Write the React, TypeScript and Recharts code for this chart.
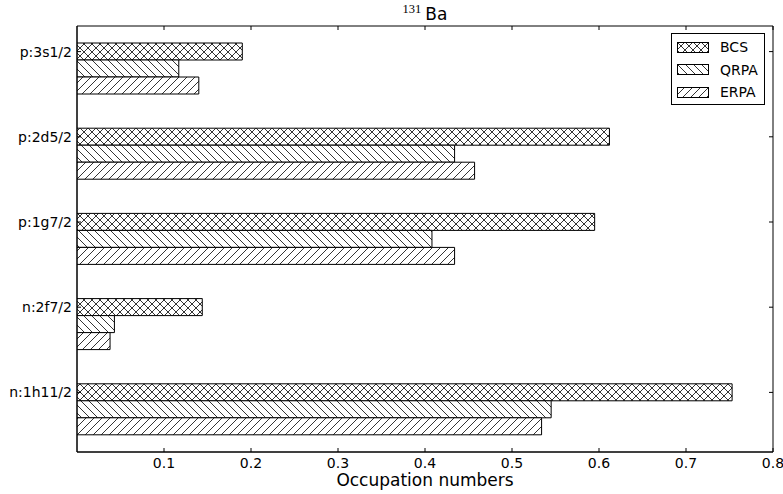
import React from "react";
import { BarChart, Bar, XAxis, YAxis, ReferenceArea, ReferenceLine } from "recharts";

const FONT = '"DejaVu Sans", sans-serif';
const BAR = 17;

const categories = ["p:3s1/2", "p:2d5/2", "p:1g7/2", "n:2f7/2", "n:1h11/2"];
const bcsValues = [0.19, 0.612, 0.595, 0.144, 0.753];
const qrpaValues = [0.117, 0.434, 0.408, 0.043, 0.545];
const erpaValues = [0.14, 0.457, 0.434, 0.038, 0.534];
const xTicks = [0.1, 0.2, 0.3, 0.4, 0.5, 0.6, 0.7, 0.8];

const series = [
  { key: "bcs", label: "BCS", fill: "url(#hatchX)" },
  { key: "qrpa", label: "QRPA", fill: "url(#hatchBack)" },
  { key: "erpa", label: "ERPA", fill: "url(#hatchFwd)" },
];

const data = categories.map((name, i) => ({
  name,
  bcs: bcsValues[i],
  qrpa: qrpaValues[i],
  erpa: erpaValues[i],
}));

const LeftTick = (props: any) => {
  const { x, y, payload } = props;
  return (
    <text x={x - 5} y={y - BAR + 5} textAnchor="end" fontSize={14} fontFamily={FONT} fill="#000">
      {payload.value}
    </text>
  );
};

const BottomTick = (props: any) => {
  const { x, y, payload } = props;
  return (
    <text x={x} y={y + 16} textAnchor="middle" fontSize={14} fontFamily={FONT} fill="#000">
      {Number(payload.value).toFixed(1)}
    </text>
  );
};

// inward tick marks on both ends of a full-height / full-width reference line
const VTicks = (props: any) => {
  const { x1, y1, y2 } = props;
  const top = Math.min(y1, y2);
  const bot = Math.max(y1, y2);
  return (
    <g>
      <line x1={x1} x2={x1} y1={top} y2={top + 4} stroke="#000" />
      <line x1={x1} x2={x1} y1={bot} y2={bot - 4} stroke="#000" />
    </g>
  );
};

const HTicks = (props: any) => {
  const { x1, x2, y1 } = props;
  const l = Math.min(x1, x2);
  const r = Math.max(x1, x2);
  const y = y1 - BAR;
  return (
    <g>
      <line x1={l} x2={l + 4} y1={y} y2={y} stroke="#000" />
      <line x1={r} x2={r - 4} y1={y} y2={y} stroke="#000" />
    </g>
  );
};

function Patterns() {
  return (
    <svg width={0} height={0} style={{ position: "absolute" }}>
      <defs>
        <pattern id="hatchX" patternUnits="userSpaceOnUse" width={8} height={8}>
          <rect width={8} height={8} fill="#fff" />
          <path d="M0,8 L8,0 M-2,2 L2,-2 M6,10 L10,6 M0,0 L8,8 M-2,6 L2,10 M6,-2 L10,2" stroke="#000" strokeWidth={0.8} />
        </pattern>
        <pattern id="hatchBack" patternUnits="userSpaceOnUse" width={8} height={8}>
          <rect width={8} height={8} fill="#fff" />
          <path d="M0,0 L8,8 M-2,6 L2,10 M6,-2 L10,2" stroke="#000" strokeWidth={0.8} />
        </pattern>
        <pattern id="hatchFwd" patternUnits="userSpaceOnUse" width={8} height={8}>
          <rect width={8} height={8} fill="#fff" />
          <path d="M0,8 L8,0 M-2,2 L2,-2 M6,10 L10,6" stroke="#000" strokeWidth={0.8} />
        </pattern>
      </defs>
    </svg>
  );
}

function LegendBox() {
  return (
    <div
      style={{
        position: "absolute",
        left: 671,
        top: 33,
        width: 92,
        height: 70,
        border: "1px solid #000",
        background: "#fff",
        fontFamily: FONT,
        fontSize: 14,
      }}
    >
      {series.map((s, i) => (
        <div
          key={s.key}
          style={{ position: "absolute", left: 5, top: 6 + i * 22.5, height: 14, display: "flex", alignItems: "center" }}
        >
          <svg width={32} height={11} style={{ display: "block" }}>
            <rect x={0.5} y={0.5} width={31} height={10} fill={s.fill} stroke="#000" />
          </svg>
          <span style={{ marginLeft: 11, lineHeight: "14px" }}>{s.label}</span>
        </div>
      ))}
    </div>
  );
}

export default function App() {
  return (
    <div style={{ position: "absolute", left: 0, top: 0, width: 783, height: 494, background: "#fff" }}>
      <Patterns />
      <svg width={783} height={26} style={{ position: "absolute", left: 0, top: 0 }}>
        <text x={425} y={20} textAnchor="middle" fill="#000">
          <tspan fontFamily='"Liberation Serif", serif' fontSize={12.5} dy={-7}>131</tspan>
          <tspan fontFamily={FONT} fontSize={17} dx={4} dy={7}>Ba</tspan>
        </text>
      </svg>
      <BarChart
        width={783}
        height={494}
        data={data}
        layout="vertical"
        margin={{ top: 26, right: 10, bottom: 0, left: 0 }}
        barCategoryGap={17}
        barGap={0}
      >
        <XAxis
          type="number"
          domain={[0, 0.8]}
          ticks={xTicks}
          height={42}
          axisLine={{ stroke: "#000" }}
          tickLine={false}
          tickSize={0}
          tickMargin={0}
          tick={BottomTick}
          allowDataOverflow
          label={{ value: "Occupation numbers", position: "insideBottom", offset: 8, fontSize: 17, fill: "#000", fontFamily: FONT }}
        />
        <YAxis
          type="category"
          dataKey="name"
          width={77}
          axisLine={{ stroke: "#000" }}
          tickLine={false}
          tickSize={0}
          tickMargin={0}
          tick={LeftTick}
          interval={0}
        />
        {series.map((s) => (
          <Bar
            key={s.key}
            dataKey={s.key}
            name={s.label}
            fill={s.fill}
            stroke="#000"
            strokeWidth={1}
            isAnimationActive={false}
          />
        ))}
        <ReferenceArea x1={0} x2={0.8} fill="none" fillOpacity={0} stroke="#000" strokeWidth={1} ifOverflow="visible" />
        {xTicks.map((t) => (
          <ReferenceLine key={t} x={t} shape={VTicks} ifOverflow="visible" />
        ))}
        {categories.map((c) => (
          <ReferenceLine key={c} y={c} shape={HTicks} />
        ))}
      </BarChart>
      <LegendBox />
    </div>
  );
}
